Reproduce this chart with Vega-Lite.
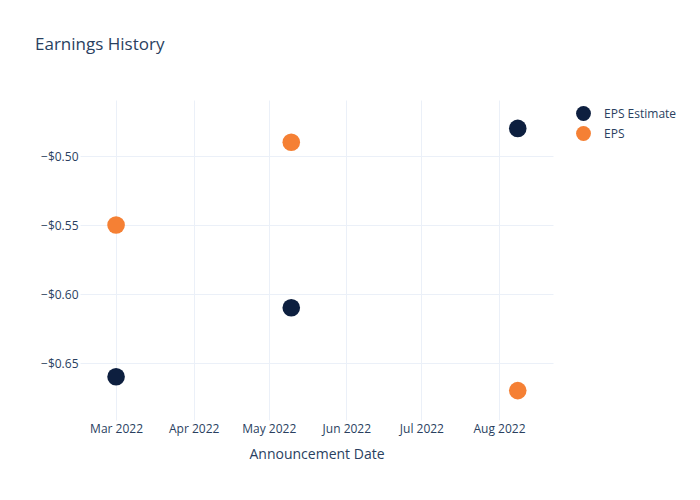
{
  "$schema": "https://vega.github.io/schema/vega-lite/v6.json",
  "width": 473,
  "height": 320,
  "padding": {"left": 35, "top": 36, "right": 5, "bottom": 5},
  "background": "white",
  "title": {"text": "Earnings History", "anchor": "start", "frame": "bounds", "fontSize": 17, "font": "Open Sans", "fontWeight": "normal", "color": "#2a3f5f", "offset": 46, "baseline": "top"},
  "config": {
    "view": {"stroke": null},
    "font": "Open Sans"
  },
  "data": {
    "values": [
      {"date": "2022-03-01", "series": "EPS Estimate", "value": -0.66},
      {"date": "2022-05-10", "series": "EPS Estimate", "value": -0.61},
      {"date": "2022-08-08T12:00:00Z", "series": "EPS Estimate", "value": -0.48},
      {"date": "2022-03-01", "series": "EPS", "value": -0.55},
      {"date": "2022-05-10", "series": "EPS", "value": -0.49},
      {"date": "2022-08-08T12:00:00Z", "series": "EPS", "value": -0.67}
    ]
  },
  "mark": {"type": "point", "filled": true, "opacity": 1, "size": 310},
  "encoding": {
    "x": {
      "field": "date", "type": "temporal",
      "scale": {"type": "utc", "domain": ["2022-02-14T14:00:00Z", "2022-08-22T14:00:00Z"], "nice": false},
      "axis": {"title": "Announcement Date", "format": "%b %Y", "tickCount": "month", "domain": false, "ticks": false, "gridColor": "#ebf0f8", "labelColor": "#2a3f5f", "labelFontSize": 12, "labelPadding": 3, "titleColor": "#2a3f5f", "titleFontSize": 14, "titleFontWeight": "normal", "titlePadding": 13, "labelFont": "Open Sans", "titleFont": "Open Sans"}
    },
    "y": {
      "field": "value", "type": "quantitative",
      "scale": {"domain": [-0.6913, -0.4594], "nice": false, "zero": false},
      "axis": {"title": null, "values": [-0.65, -0.6, -0.55, -0.5], "labelExpr": "'\u2212$' + format(abs(datum.value), '.2f')", "domain": false, "ticks": false, "gridColor": "#ebf0f8", "labelColor": "#2a3f5f", "labelFontSize": 12, "labelPadding": 2, "minExtent": 45, "maxExtent": 45, "labelFont": "Open Sans"}
    },
    "color": {
      "field": "series", "type": "nominal",
      "scale": {"domain": ["EPS Estimate", "EPS"], "range": ["#0d1f3f", "#f58034"]},
      "legend": {"title": null, "orient": "none", "legendX": 495, "legendY": 5, "symbolSize": 220, "labelFontSize": 12, "labelColor": "#2a3f5f", "symbolType": "circle", "labelOffset": 12, "rowPadding": 4, "labelFont": "Open Sans"}
    }
  }
}
